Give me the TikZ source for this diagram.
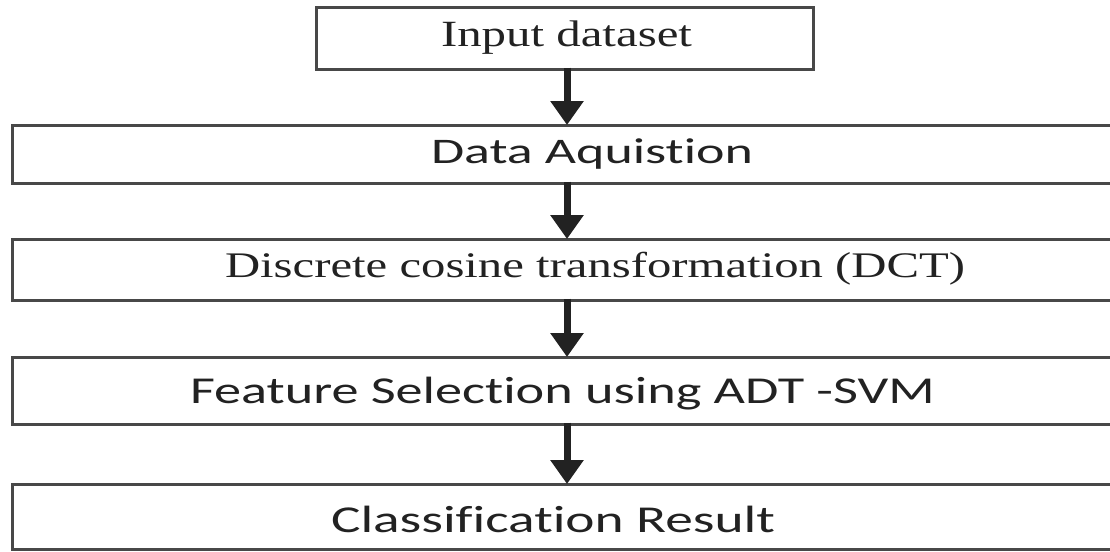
\documentclass[tikz,border=0pt]{standalone}
\usepackage{fontspec}
\usepackage{graphicx}
\setmainfont[Ligatures=NoCommon]{Liberation Serif}
\newfontfamily\calib[RawFeature={-liga;-clig;-dlig;-calt}]{Carlito}
\usetikzlibrary{arrows.meta}
\definecolor{boxline}{HTML}{484848}
\definecolor{ink}{HTML}{222222}
\tikzset{
  box/.style={draw=boxline, line width=3pt, fill=white, inner sep=0pt, outer sep=0pt},
  lbl/.style={inner sep=0pt, outer sep=0pt, anchor=base west, text=ink},
  flow/.style={draw=ink, line width=7pt, -{Triangle[width=32pt,length=24pt]}, shorten <=-1.5pt}
}
\begin{document}
\begin{tikzpicture}[x=1pt,y=-1pt]
\useasboundingbox (0,0) rectangle (1110,551);
\node[box, minimum width=497pt, minimum height=61pt] (b1) at (564.5,38.5) {};
\node[box, minimum width=1113pt, minimum height=58pt] (b2) at (568.5,154) {};
\node[box, minimum width=1113pt, minimum height=61pt] (b3) at (568.5,269.5) {};
\node[box, minimum width=1113pt, minimum height=67pt] (b4) at (568.5,390.5) {};
\node[box, minimum width=1113pt, minimum height=65pt] (b5) at (568.5,516.5) {};
\node[lbl] (t1) at (441,47) {\resizebox{251pt}{\height}{\fontsize{37}{40}\selectfont Input dataset}};
\node[lbl] (t2) at (431,163) {\resizebox{322pt}{\height}{\calib\fontsize{36}{40}\selectfont Data Aquist\kern0pt ion}};
\node[lbl] (t3) at (225,277) {\resizebox{740pt}{\height}{\fontsize{36}{40}\selectfont Discrete cosine transformation (DCT)}};
\node[lbl] (t4) at (190,403) {\resizebox{745pt}{\height}{\calib\fontsize{38}{40}\selectfont Feature Select\kern0pt ion using ADT -SVM}};
\node[lbl] (t5) at (331,532) {\resizebox{444pt}{\height}{\calib\fontsize{38}{40}\selectfont Classification Result}};
\coordinate (a1s) at (567,69);
\coordinate (a1e) at (567,125);
\coordinate (a2s) at (567,183);
\coordinate (a2e) at (567,239);
\coordinate (a3s) at (567,300);
\coordinate (a3e) at (567,357);
\coordinate (a4s) at (567,424);
\coordinate (a4e) at (567,484);
\draw[flow] (a1s) -- (a1e);
\draw[flow] (a2s) -- (a2e);
\draw[flow] (a3s) -- (a3e);
\draw[flow] (a4s) -- (a4e);
\end{tikzpicture}
\end{document}
